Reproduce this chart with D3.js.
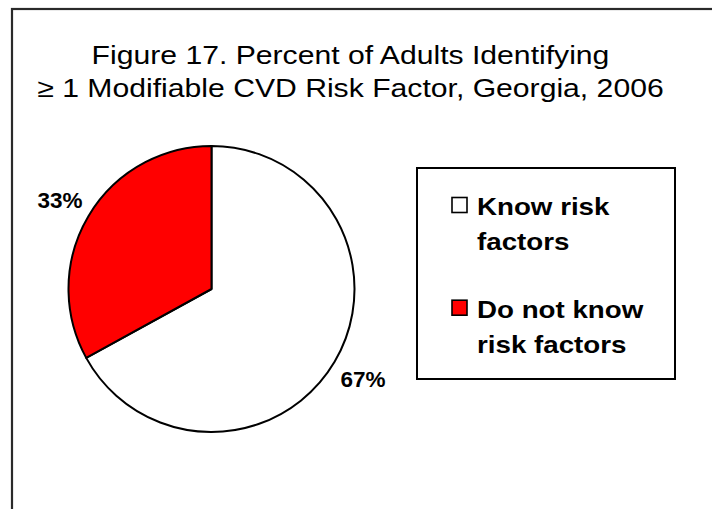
<!DOCTYPE html>
<html>
<head>
<meta charset="utf-8">
<script src="https://cdn.jsdelivr.net/npm/d3@7"></script>
<style>
  html, body { margin: 0; padding: 0; background: #fff; }
  svg { display: block; }
  text { font-family: "Liberation Sans", Arial, sans-serif; fill: #000; }
</style>
</head>
<body>
<script>
// Survey result: share of adults who can name at least one modifiable CVD risk factor
const categories = ["Know risk factors", "Do not know risk factors"];
const percents = [67, 33];
const sliceColors = ["#ffffff", "#ff0000"];
const legendLines = [["Know risk", "factors"], ["Do not know", "risk factors"]];
const titleLines = [
  "Figure 17. Percent of Adults Identifying",
  "\u2265 1 Modifiable CVD Risk Factor, Georgia, 2006"
];

const W = 712, H = 509;
const svg = d3.select("body").append("svg").attr("width", W).attr("height", H);

// Chart frame (runs off the right and bottom edges)
svg.append("rect")
  .attr("x", 12).attr("y", 9)
  .attr("width", 720).attr("height", 520)
  .attr("fill", "#fff").attr("stroke", "#2a2a2a").attr("stroke-width", 2.2);

// Title, set in a slightly widened face
svg.append("g").selectAll("text").data(titleLines).join("text")
  .attr("transform", (d, i) => `translate(350.5,${63.5 + i * 33}) scale(1.16,1)`)
  .attr("text-anchor", "middle")
  .attr("font-size", 26)
  .text(d => d);

// Pie: white slice starts at 12 o'clock going clockwise, red fills the rest
const cx = 211.5, cy = 289, r = 143;
const pie = d3.pie().sort(null).value(d => d)(percents);
const arc = d3.arc().innerRadius(0).outerRadius(r);
const labelArc = d3.arc().innerRadius(176).outerRadius(176);

const g = svg.append("g").attr("transform", `translate(${cx},${cy})`);
g.selectAll("path").data(pie).join("path")
  .attr("d", arc)
  .attr("fill", (d, i) => sliceColors[i])
  .attr("stroke", "#000")
  .attr("stroke-width", 2)
  .attr("stroke-linejoin", "round");

g.selectAll("text.pct").data(pie).join("text")
  .attr("class", "pct")
  .attr("transform", d => `translate(${labelArc.centroid(d)})`)
  .attr("text-anchor", "middle")
  .attr("dy", "0.36em")
  .attr("font-size", 22.5)
  .attr("font-weight", "bold")
  .text(d => d.data + "%");

// Legend
const lg = svg.append("g");
lg.append("rect")
  .attr("x", 417).attr("y", 168)
  .attr("width", 258).attr("height", 211)
  .attr("fill", "#fff").attr("stroke", "#000").attr("stroke-width", 2);

const items = lg.selectAll("g.item").data(categories).join("g")
  .attr("class", "item")
  .attr("transform", (d, i) => `translate(0,${i * 102.7})`);

items.append("rect")
  .attr("x", 452).attr("y", 197.5)
  .attr("width", 15).attr("height", 15)
  .attr("fill", (d, i) => sliceColors[i])
  .attr("stroke", "#000").attr("stroke-width", 1.6);

items.append("g")
  .attr("transform", "translate(477,0) scale(1.18,1)")
  .append("text")
  .attr("font-size", 23.5)
  .attr("font-weight", "bold")
  .selectAll("tspan").data((d, i) => legendLines[i]).join("tspan")
  .attr("x", 0)
  .attr("y", (d, j) => 215 + j * 35)
  .text(d => d);
</script>
</body>
</html>
